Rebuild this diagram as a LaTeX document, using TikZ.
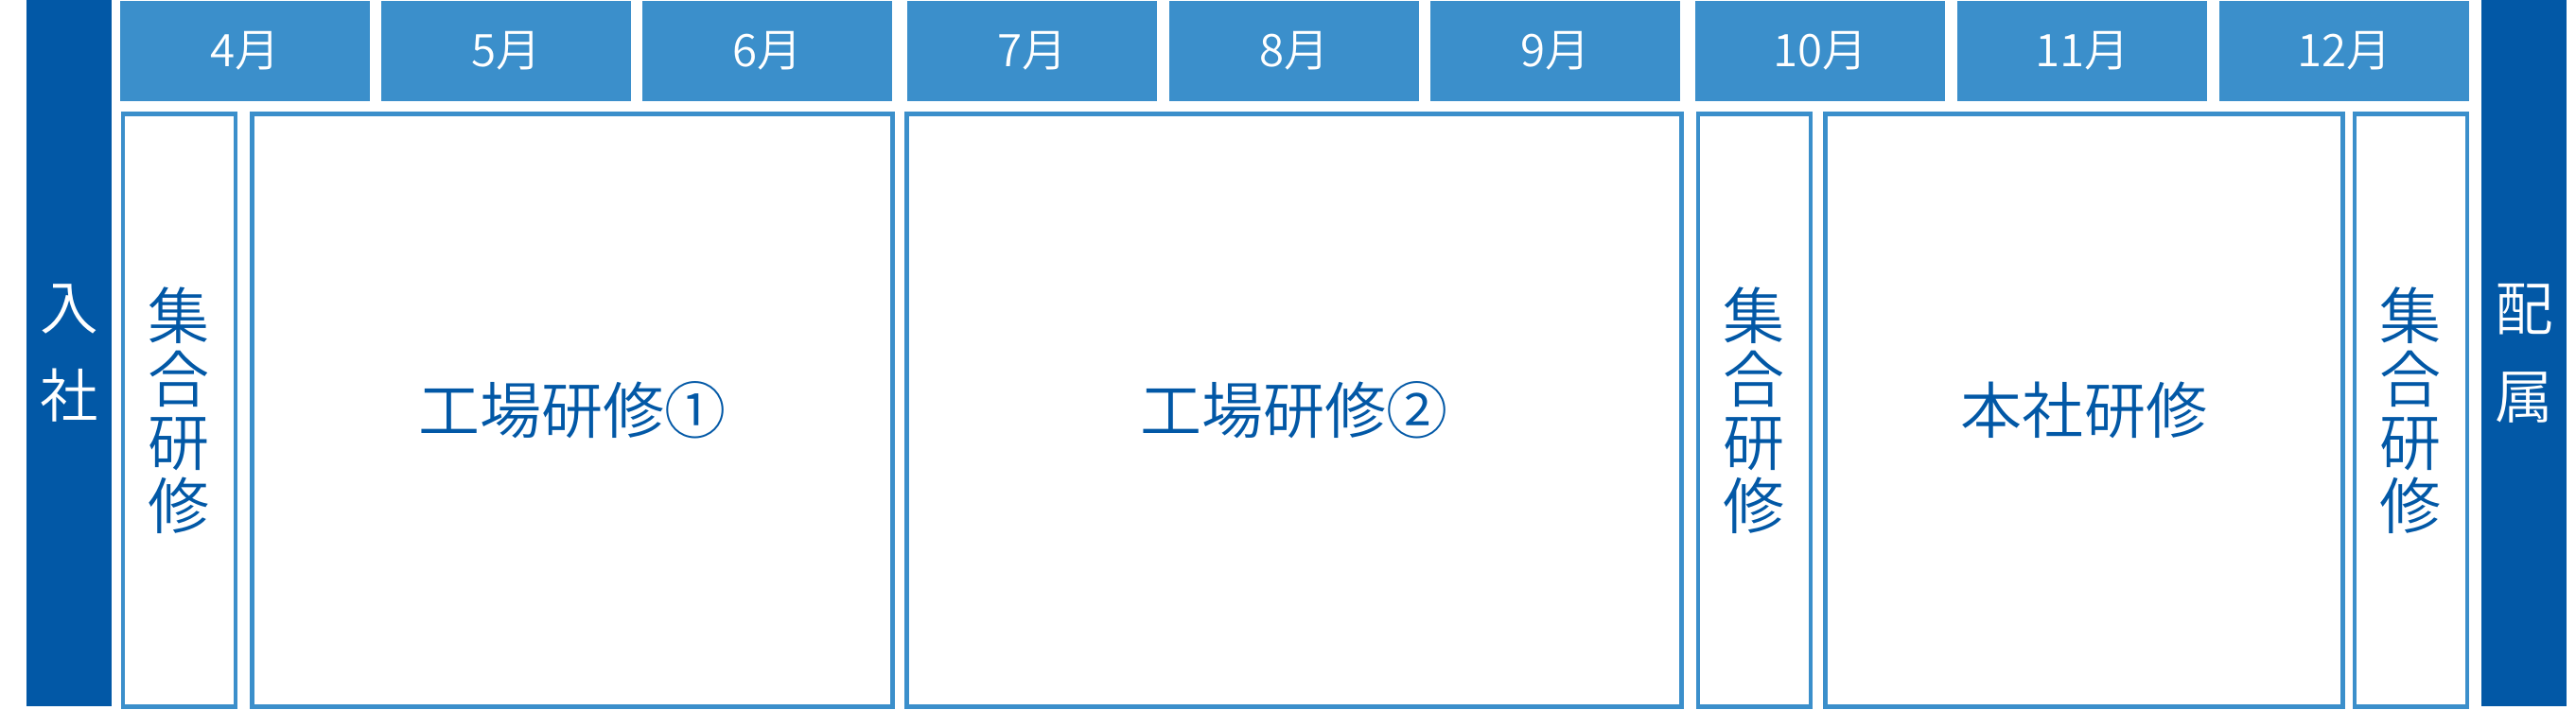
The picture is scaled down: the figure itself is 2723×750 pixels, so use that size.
\documentclass[tikz,border=0pt]{standalone}
\usepackage{fontspec}
\newfontfamily\jpfont{Noto Sans CJK JP DemiLight}
\definecolor{deepblue}{RGB}{2,88,166}
\definecolor{skyblue}{RGB}{59,143,203}
\begin{document}
\begin{tikzpicture}[
    x=0.01cm, y=-0.01cm,
    month/.style={rectangle,fill=skyblue,text=white,minimum width=2.64cm,minimum height=1.06cm,font=\jpfont\fontsize{13.5}{14}\selectfont},
    phase/.style={rectangle,draw=skyblue,line width=3.5pt/2.845,minimum height=6.265cm,text=deepblue,align=center,font=\jpfont\fontsize{18.5}{19}\selectfont},
    edgebar/.style={rectangle,fill=deepblue,text=white,minimum width=0.9cm,minimum height=7.47cm,align=center,font=\jpfont\fontsize{17.5}{26.5}\selectfont}
]
    \useasboundingbox (0,0) rectangle (2723,750);

    % Define nodes
    \node[edgebar] (join) at (73,373.5) {入\\社};
    \node[edgebar] (assign) at (2668,373.5) {配\\属};

    \foreach \m/\x in {4/127,5/403,6/679,7/959,8/1236,9/1512,10/1792,11/2069,12/2346}
        \node[month] (m\m) at (\x+132,54) {\m 月};

    \node[phase,minimum width=1.195cm] (group1) at (189.5,434) {集\\合\\研\\修};
    \node[phase,minimum width=6.765cm] (plant1) at (605,434) {工場研修①};
    \node[phase,minimum width=8.185cm] (plant2) at (1368,434) {工場研修②};
    \node[phase,minimum width=1.195cm] (group2) at (1854.5,434) {集\\合\\研\\修};
    \node[phase,minimum width=5.465cm] (head) at (2203,434) {本社研修};
    \node[phase,minimum width=1.195cm] (group3) at (2548.5,434) {集\\合\\研\\修};
\end{tikzpicture}
\end{document}
